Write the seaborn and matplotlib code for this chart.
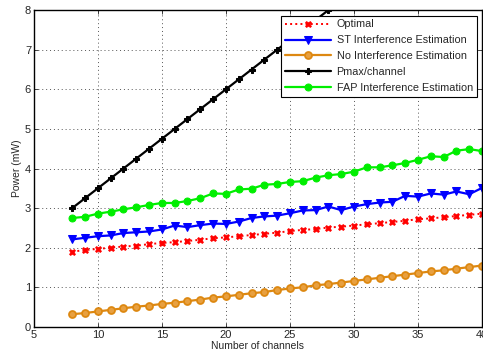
import numpy as np
import pandas as pd
import matplotlib
matplotlib.use("Agg")
import matplotlib.pyplot as plt
import seaborn as sns

# channel counts 8..40
channels = list(range(8, 41))
channels_pmax = list(range(8, 29))

optimal = [1.90, 1.94, 1.97, 2.00, 2.03, 2.05, 2.09, 2.12, 2.14, 2.17, 2.20,
           2.24, 2.26, 2.29, 2.32, 2.35, 2.38, 2.42, 2.45, 2.47, 2.51, 2.53,
           2.56, 2.59, 2.62, 2.65, 2.68, 2.72, 2.74, 2.77, 2.80, 2.83, 2.86]
st_est = [2.21, 2.25, 2.29, 2.31, 2.37, 2.39, 2.41, 2.46, 2.56, 2.52, 2.57,
          2.61, 2.60, 2.66, 2.75, 2.79, 2.81, 2.87, 2.94, 2.95, 3.04, 2.95,
          3.04, 3.10, 3.14, 3.16, 3.31, 3.29, 3.37, 3.34, 3.42, 3.35, 3.51]
no_est = [0.32, 0.35, 0.39, 0.43, 0.47, 0.51, 0.54, 0.58, 0.61, 0.65, 0.69,
          0.74, 0.77, 0.81, 0.85, 0.88, 0.93, 0.97, 1.00, 1.05, 1.08, 1.12,
          1.16, 1.20, 1.24, 1.28, 1.32, 1.36, 1.40, 1.43, 1.47, 1.51, 1.55]
pmax = [3.00, 3.25, 3.50, 3.75, 4.00, 4.25, 4.50, 4.75, 5.00, 5.25, 5.50,
        5.75, 6.00, 6.25, 6.50, 6.75, 7.00, 7.25, 7.50, 7.75, 8.00]
fap_est = [2.75, 2.78, 2.86, 2.91, 2.97, 3.02, 3.08, 3.13, 3.13, 3.18, 3.25,
           3.37, 3.36, 3.47, 3.49, 3.59, 3.61, 3.66, 3.68, 3.77, 3.83, 3.86,
           3.92, 4.03, 4.03, 4.08, 4.14, 4.22, 4.31, 4.29, 4.45, 4.49, 4.44]

sns.set_theme(style="ticks")
plt.rcParams["font.family"] = ["Liberation Sans", "DejaVu Sans"]

fig = plt.figure(figsize=(4.83, 3.62), dpi=100)
ax = fig.add_axes([0.070, 0.097, 0.928, 0.875])

sns.lineplot(x=channels, y=optimal, ax=ax, color="red", linestyle=":",
             linewidth=1.4, marker="X", markersize=4.5, markeredgewidth=0.4,
             markeredgecolor="red", label="Optimal")
sns.lineplot(x=channels, y=st_est, ax=ax, color="blue", linewidth=1.6,
             marker="v", markersize=6, markeredgecolor="blue",
             label="ST Interference Estimation")
sns.lineplot(x=channels, y=no_est, ax=ax, color="#dd8811", linewidth=1.6,
             marker="o", markersize=5, markerfacecolor="#e8a040",
             markeredgecolor="#dd8811", markeredgewidth=1.3,
             label="No Interference Estimation")
sns.lineplot(x=channels_pmax, y=pmax, ax=ax, color="black", linewidth=1.6,
             marker="P", markersize=5, markeredgecolor="black",
             label="Pmax/channel")
sns.lineplot(x=channels, y=fap_est, ax=ax, color="#00ee00", linewidth=1.6,
             marker="o", markersize=5, markeredgecolor="#00ee00",
             label="FAP Interference Estimation")

ax.set_xlim(5, 40)
ax.set_ylim(0, 8)
ax.set_xticks(range(5, 41, 5))
ax.set_yticks(range(0, 9))
ax.grid(True, linestyle=(0, (1, 3)), color="#555555", linewidth=0.7)
ax.tick_params(direction="in", labelsize=8, length=3, width=0.6,
               top=True, right=True, pad=2)
for sp in ax.spines.values():
    sp.set_linewidth(1.0)
    sp.set_color("black")
ax.set_xlabel("Number of channels", fontsize=7.5, labelpad=1)
ax.set_ylabel("Power (mW)", fontsize=7.5, labelpad=2)

leg = ax.legend(loc="upper right", fontsize=7.8, frameon=True, fancybox=False,
                edgecolor="black", framealpha=1, handlelength=4.3,
                borderaxespad=0.5, labelspacing=0.55, borderpad=0.35,
                handletextpad=0.5)
leg.get_frame().set_linewidth(0.8)

fig.savefig("out.png", dpi=100)
